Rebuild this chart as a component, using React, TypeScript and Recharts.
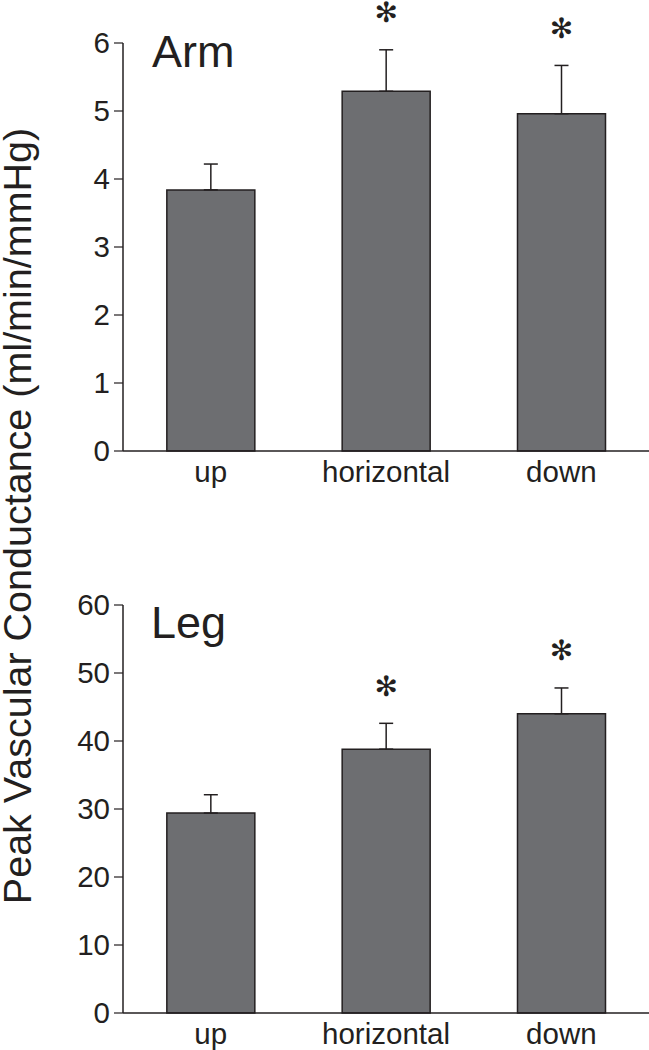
import React from "react";
import { Bar, BarChart, ErrorBar, XAxis, YAxis } from "recharts";

const categories = ["up", "horizontal", "down"];

const armMeans = [3.84, 5.29, 4.96];
const armSE = [0.38, 0.61, 0.71];
const armSignificant = [false, true, true];
const armTicks = [0, 1, 2, 3, 4, 5, 6];

const legMeans = [29.4, 38.8, 44.0];
const legSE = [2.7, 3.8, 3.8];
const legSignificant = [false, true, true];
const legTicks = [0, 10, 20, 30, 40, 50, 60];

const INK = "#231f20";
const BAR_FILL = "#6d6e71";
const FONT = "'Liberation Sans', Arial, Helvetica, sans-serif";

function buildRows(means: number[], se: number[], sig: boolean[]) {
  return categories.map((name, i) => ({
    name,
    mean: means[i],
    err: [0, se[i]],
    se: se[i],
    sig: sig[i],
  }));
}

function Panel({
  rows,
  ticks,
}: {
  rows: ReturnType<typeof buildRows>;
  ticks: number[];
}) {
  // asterisk sits a fixed distance above the top of the error bar
  const renderStar = (props: any) => {
    const { x, y, width, height, index } = props;
    const row = rows[index];
    if (!row || !row.sig) return null;
    const errPx = (row.se * height) / row.mean;
    const cx = x + width / 2;
    const cy = y - errPx - 37;
    return (
      <text
        x={cx}
        y={cy}
        textAnchor="middle"
        dominantBaseline="central"
        fontFamily="'DejaVu Sans', sans-serif"
        fontSize={28}
        fill={INK}
      >
        ✻
      </text>
    );
  };

  return (
    <BarChart
      width={649}
      height={488}
      data={rows}
      margin={{ top: 43, right: 0, bottom: 0, left: 63 }}
      barCategoryGap="25%"
    >
      <XAxis
        dataKey="name"
        height={37}
        tickLine={false}
        tickSize={0}
        tickMargin={10}
        axisLine={{ stroke: INK, strokeWidth: 1.5 }}
        tick={{ fill: INK, fontSize: 29.5, fontFamily: FONT }}
      />
      <YAxis
        width={60}
        domain={[ticks[0], ticks[ticks.length - 1]]}
        ticks={ticks}
        interval={0}
        tickSize={9}
        tickMargin={4}
        axisLine={{ stroke: INK, strokeWidth: 1.5 }}
        tickLine={{ stroke: INK, strokeWidth: 1.2 }}
        tick={{ fill: INK, fontSize: 29.5, fontFamily: FONT }}
      />
      <Bar
        dataKey="mean"
        fill={BAR_FILL}
        stroke={INK}
        strokeWidth={1.5}
        isAnimationActive={false}
        label={renderStar}
      >
        <ErrorBar
          dataKey="err"
          width={7}
          stroke={INK}
          strokeWidth={1.5}
          direction="y"
        />
      </Bar>
    </BarChart>
  );
}

export default function App() {
  const armRows = buildRows(armMeans, armSE, armSignificant);
  const legRows = buildRows(legMeans, legSE, legSignificant);

  return (
    <div
      style={{
        position: "absolute",
        left: 0,
        top: 0,
        width: 649,
        height: 1050,
        background: "#fff",
        overflow: "hidden",
      }}
    >
      <div style={{ position: "absolute", left: 0, top: 0 }}>
        <Panel rows={armRows} ticks={armTicks} />
      </div>
      <div style={{ position: "absolute", left: 0, top: 562 }}>
        <Panel rows={legRows} ticks={legTicks} />
      </div>
      <svg
        width={649}
        height={1050}
        style={{ position: "absolute", left: 0, top: 0, pointerEvents: "none" }}
      >
        <text x={152} y={67} fontFamily={FONT} fontSize={45} fill={INK}>
          Arm
        </text>
        <text x={151} y={638} fontFamily={FONT} fontSize={45} fill={INK}>
          Leg
        </text>
        <text
          x={31}
          y={516}
          transform="rotate(-90, 31, 516)"
          textAnchor="middle"
          fontFamily={FONT}
          fontSize={39.5}
          fill={INK}
        >
          Peak Vascular Conductance (ml/min/mmHg)
        </text>
      </svg>
    </div>
  );
}
